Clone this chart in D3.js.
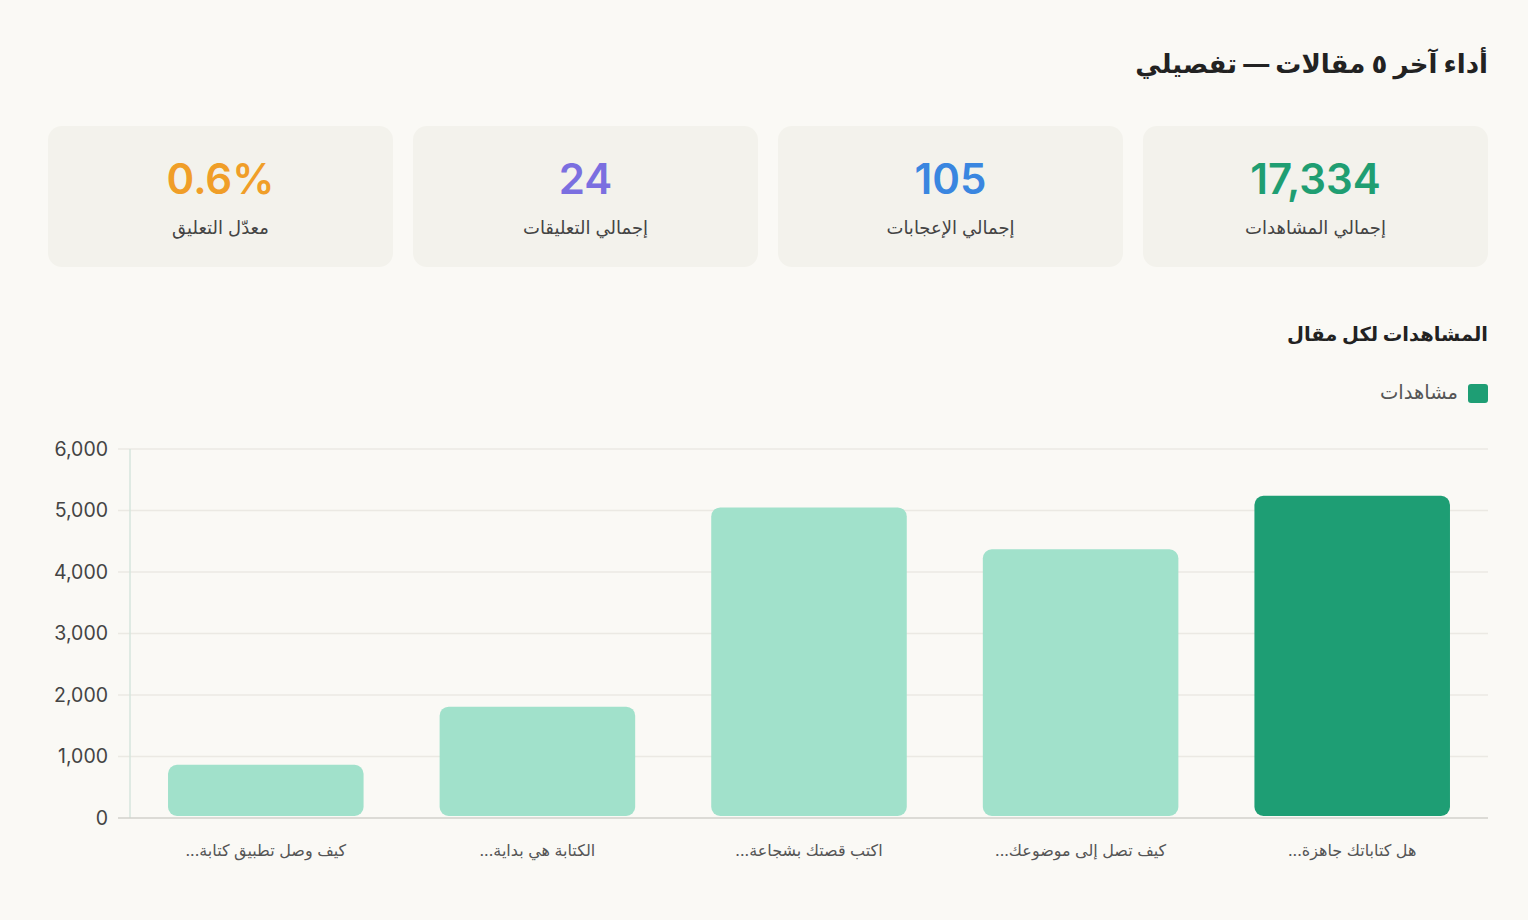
<!DOCTYPE html>
<html lang="ar" dir="rtl">
<head>
<meta charset="utf-8">
<script src="https://cdn.jsdelivr.net/npm/d3@7"></script>
<style>
  html, body { margin: 0; padding: 0; background: #faf9f5; }
  svg { display: block; }
  text { font-family: Inter, "DejaVu Sans", sans-serif; }
</style>
</head>
<body>
<svg id="chart" width="1528" height="920"></svg>
<script>
// data
const pageTitle = "أداء آخر ٥ مقالات — تفصيلي";
const statValues = ["17,334", "105", "24", "0.6%"];
const statLabels = ["إجمالي المشاهدات", "إجمالي الإعجابات", "إجمالي التعليقات", "معدّل التعليق"];
const statColors = ["#1f9e72", "#3a86e0", "#7b6fe0", "#f09e28"];

const chartTitle = "المشاهدات لكل مقال";
const seriesName = "مشاهدات";
const articles = ["هل كتاباتك جاهزة...", "كيف تصل إلى موضوعك...", "اكتب قصتك بشجاعة...", "الكتابة هي بداية...", "كيف وصل تطبيق كتابة..."];
const views = [5240, 4370, 5050, 1810, 864];
const yTicks = [0, 1000, 2000, 3000, 4000, 5000, 6000];

const darkGreen = "#1e9e74";
const lightGreen = "#a1e1cb";

/* layout */
const svg = d3.select("#chart");
const left = 48, right = 1488;

svg.append("text")
  .attr("x", right).attr("y", 73)
  .attr("font-size", 26).attr("font-weight", 700)
  .attr("fill", "#222")
  .text(pageTitle);

/* stat cards, right to left */
const gap = 20;
const cardW = (right - left - 3 * gap) / 4;
const cards = svg.append("g").selectAll("g")
  .data(statValues)
  .join("g")
  .attr("transform", (d, i) => `translate(${right - cardW - i * (cardW + gap)},126)`);

cards.append("rect")
  .attr("width", cardW).attr("height", 141)
  .attr("rx", 14)
  .attr("fill", "#f3f2ec");

cards.append("text")
  .attr("x", cardW / 2).attr("y", 68)
  .attr("text-anchor", "middle")
  .attr("direction", "ltr")
  .attr("font-size", 42).attr("font-weight", 600)
  .attr("fill", (d, i) => statColors[i])
  .text(d => d);

cards.append("text")
  .attr("x", cardW / 2).attr("y", 108)
  .attr("text-anchor", "middle")
  .attr("font-size", 18)
  .attr("fill", "#444")
  .text((d, i) => statLabels[i]);

/* bar chart */
svg.append("text")
  .attr("x", right).attr("y", 341)
  .attr("font-size", 19.5).attr("font-weight", 700)
  .attr("fill", "#222")
  .text(chartTitle);

// legend
svg.append("rect")
  .attr("x", right - 20).attr("y", 384)
  .attr("width", 20).attr("height", 19).attr("rx", 3)
  .attr("fill", darkGreen);
svg.append("text")
  .attr("x", right - 30).attr("y", 399)
  .attr("font-size", 19.5).attr("fill", "#555")
  .text(seriesName);

const x0 = 130, yTop = 449, yBase = 818;

// RTL: first article on the right
const x = d3.scaleBand()
  .domain(articles)
  .range([right, x0]);

const y = d3.scaleLinear()
  .domain([0, 6000])
  .range([yBase, yTop]);

// gridlines
svg.append("g")
  .selectAll("line")
  .data(yTicks.filter(t => t > 0))
  .join("line")
  .attr("x1", x0 - 12).attr("x2", right)
  .attr("y1", d => y(d)).attr("y2", d => y(d))
  .attr("stroke", "#ebe9e3").attr("stroke-width", 1.5);

// y axis
const yAxis = svg.append("g")
  .attr("transform", `translate(${x0 - 22},0)`)
  .attr("direction", "ltr")
  .call(d3.axisLeft(y).tickValues(yTicks).tickFormat(d3.format(",")).tickSize(0).tickPadding(0));
yAxis.select(".domain").remove();
yAxis.selectAll("text")
  .attr("font-family", "Inter, 'DejaVu Sans', sans-serif")
  .attr("font-size", 19.5)
  .attr("fill", "#444")
  .attr("text-anchor", "end");

svg.append("line")
  .attr("x1", x0).attr("x2", x0)
  .attr("y1", yTop).attr("y2", yBase)
  .attr("stroke", "#d6e4dd").attr("stroke-width", 1.5);

// bars
const barW = x.bandwidth() * 0.72;
svg.append("g")
  .selectAll("rect")
  .data(views)
  .join("rect")
  .attr("x", (d, i) => x(articles[i]) + (x.bandwidth() - barW) / 2)
  .attr("y", d => y(d))
  .attr("width", barW)
  .attr("height", d => y(0) - y(d) - 2)
  .attr("rx", 9)
  .attr("fill", (d, i) => i === 0 ? darkGreen : lightGreen);

// x axis baseline
svg.append("line")
  .attr("x1", x0 - 12).attr("x2", right)
  .attr("y1", yBase).attr("y2", yBase)
  .attr("stroke", "#d2d1cb").attr("stroke-width", 1.5);

// x labels
svg.append("g")
  .selectAll("text")
  .data(articles)
  .join("text")
  .attr("x", d => x(d) + x.bandwidth() / 2)
  .attr("y", 856)
  .attr("text-anchor", "middle")
  .attr("font-size", 16)
  .attr("fill", "#555")
  .text(d => d);
</script>
</body>
</html>
